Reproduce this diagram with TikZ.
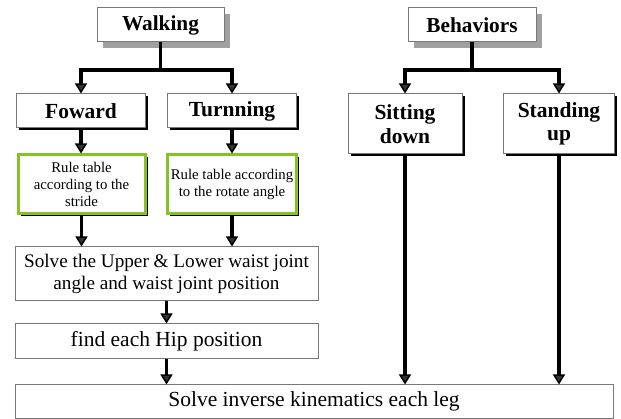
\documentclass[tikz,border=0pt]{standalone}
\usepackage{fontspec}
\setmainfont{Liberation Serif}
\usetikzlibrary{arrows.meta,shadows}
\definecolor{boxgray}{RGB}{120,120,120}
\definecolor{shadgray}{RGB}{160,160,160}
\definecolor{ruleg}{RGB}{132,194,37}
\tikzset{
  base/.style={draw=boxgray,line width=1pt,fill=white,inner sep=2pt,align=center},
  topbox/.style={base,font=\fontsize{21.3}{23}\selectfont\bfseries,
     drop shadow={shadow xshift=6pt,shadow yshift=-6pt,fill=shadgray,opacity=1}},
  subbox/.style={base,font=\fontsize{21.5}{23.5}\selectfont\bfseries,
     drop shadow={shadow xshift=2.5pt,shadow yshift=-2.5pt,fill=black,opacity=1}},
  rulebox/.style={base,draw=ruleg,line width=3pt,font=\fontsize{14.8}{17.3}\selectfont,
     drop shadow={shadow xshift=2.5pt,shadow yshift=-2.5pt,fill=black,opacity=1}},
  procbox/.style={base,font=\fontsize{21.5}{22}\selectfont},
  solvebox/.style={base,font=\fontsize{19.2}{21.7}\selectfont},
  conn/.style={line width=3.6pt,black},
  arr/.style={conn,-{Triangle[width=12pt,length=10pt,fill=black!80,line width=1.5pt]}},
}
\begin{document}
\begin{tikzpicture}[x=1pt,y=-1pt]
\useasboundingbox (0,0) rectangle (621,419);
\node[topbox,minimum width=127pt,minimum height=34pt] (walk) at (160.5,25) {Walking};
\node[topbox,minimum width=128pt,minimum height=34pt] (behav) at (472,25) {Behaviors};
\node[subbox,minimum width=129pt,minimum height=34pt] (fwd) at (81,111) {Foward};
\node[subbox,minimum width=129pt,minimum height=34pt] (turn) at (232,111) {Turnning};
\node[subbox,minimum width=114pt,minimum height=60pt] (sit) at (405,124) {Sitting\\down};
\node[subbox,minimum width=111pt,minimum height=60pt] (stand) at (559,124) {Standing\\up};
\node[rulebox,minimum width=127pt,minimum height=59pt] (rule1) at (81.5,184.5) {Rule table\\according to the\\stride};
\node[rulebox,minimum width=129pt,minimum height=59pt] (rule2) at (232,184.5) {Rule table according\\to the rotate angle};
\node[solvebox,minimum width=303pt,minimum height=54pt] (solve) at (166.5,274) {Solve the Upper \& Lower waist joint\\angle and waist joint position};
\node[procbox,minimum width=303pt,minimum height=35pt] (hip) at (166.5,341.5) {find each Hip position};
\node[procbox,minimum width=598pt,minimum height=33pt] (ik) at (314,401.5) {Solve inverse kinematics each leg};
\coordinate (wj) at (160.5,70);
\coordinate (bj) at (472,70);
\draw[conn] (walk.south) -- (wj);
\draw[arr] (wj) -| (fwd.north);
\draw[arr] (wj) -| (turn.north);
\draw[conn] (behav.south) -- (bj);
\draw[arr] (bj) -| (sit.north);
\draw[arr] (bj) -| (stand.north);
\draw[arr] (fwd.south) -- (fwd.south |- rule1.north);
\draw[arr] (turn.south) -- (turn.south |- rule2.north);
\draw[arr] ([yshift=-1pt]rule1.south) -- (rule1.south |- solve.north);
\draw[arr] ([yshift=-1pt]rule2.south) -- (rule2.south |- solve.north);
\draw[arr] (solve.south) -- (hip.north);
\draw[arr] (hip.south) -- (hip.south |- ik.north);
\draw[arr] ([yshift=-1pt]sit.south) -- (sit.south |- ik.north);
\draw[arr] ([yshift=-1pt]stand.south) -- (stand.south |- ik.north);
\end{tikzpicture}
\end{document}
